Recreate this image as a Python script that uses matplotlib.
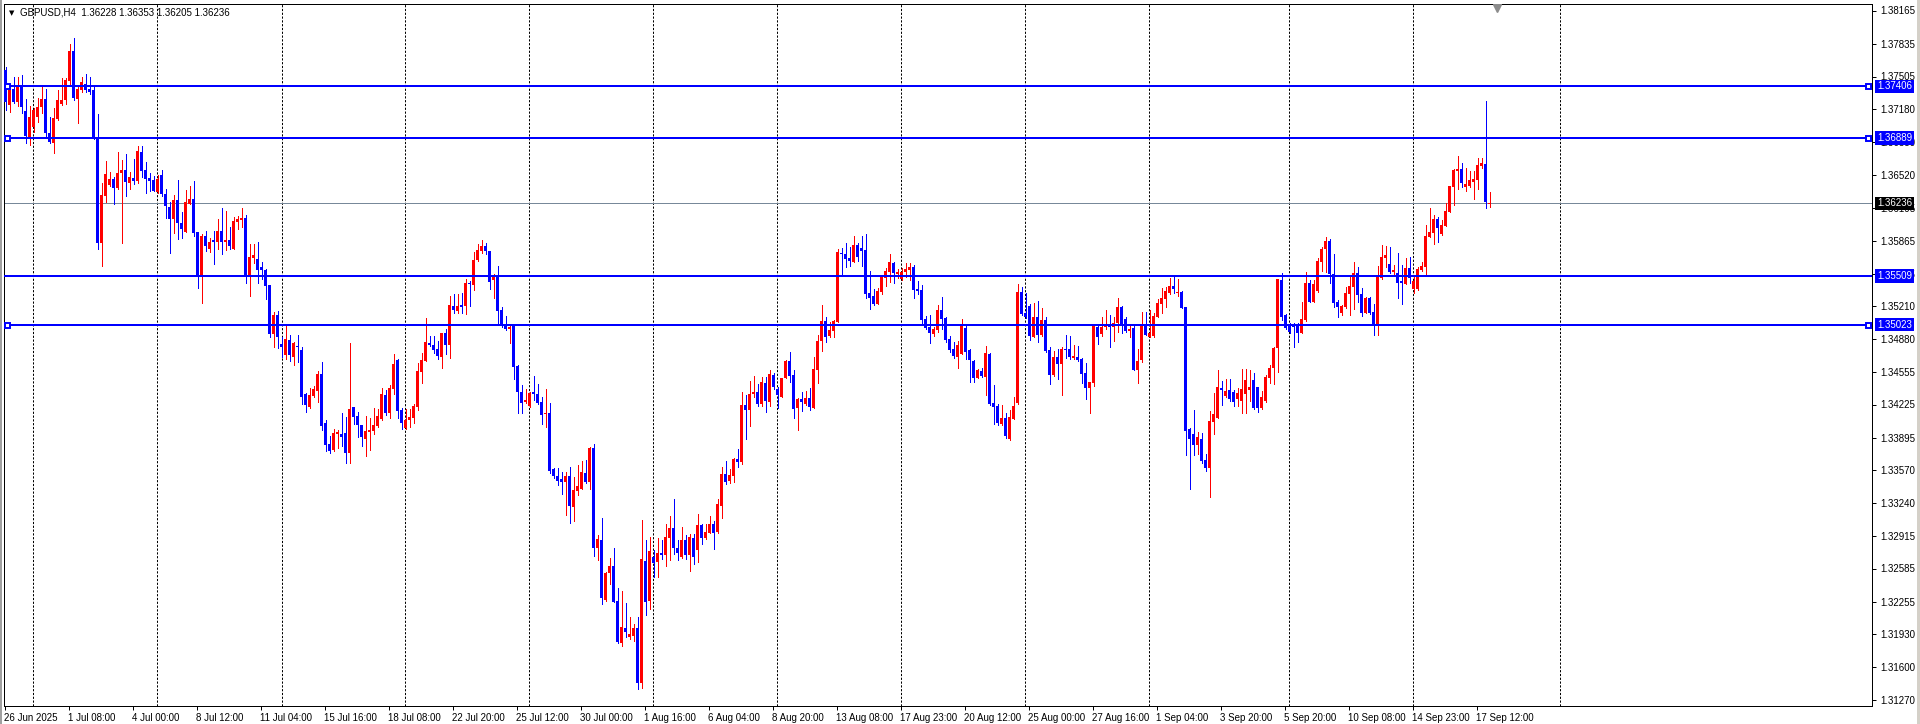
import numpy as np
import matplotlib.pyplot as plt
from matplotlib.patches import Rectangle

plt.rcParams['font.family'] = ['Liberation Sans', 'DejaVu Sans']

# GBPUSD H4 candles
opens = [
    1.3757, 1.3722, 1.3738, 1.3725, 1.3741, 1.3716, 1.3690, 1.3700, 1.3710, 1.3720,
    1.3728, 1.3694, 1.3684, 1.3708, 1.3723, 1.3727, 1.3746, 1.3776, 1.3728, 1.3737,
    1.3743, 1.3738, 1.3737, 1.3689, 1.3584, 1.3631, 1.3642, 1.3648, 1.3639, 1.3654,
    1.3657, 1.3644, 1.3649, 1.3646, 1.3675, 1.3657, 1.3649, 1.3647, 1.3635, 1.3652,
    1.3633, 1.3620, 1.3608, 1.3627, 1.3604, 1.3595, 1.3623, 1.3628, 1.3595, 1.3550,
    1.3591, 1.3578, 1.3587, 1.3585, 1.3596, 1.3585, 1.3587, 1.3578, 1.3605, 1.3607,
    1.3609, 1.3550, 1.3569, 1.3568, 1.3560, 1.3557, 1.3542, 1.3493, 1.3512, 1.3483,
    1.3472, 1.3487, 1.3470, 1.3481, 1.3477, 1.3433, 1.3420, 1.3431, 1.3436, 1.3453,
    1.3404, 1.3383, 1.3377, 1.3393, 1.3393, 1.3394, 1.3374, 1.3420, 1.3411, 1.3402,
    1.3388, 1.3395, 1.3396, 1.3401, 1.3408, 1.3432, 1.3414, 1.3438, 1.3467, 1.3417,
    1.3399, 1.3407, 1.3409, 1.3420, 1.3455, 1.3466, 1.3484, 1.3482, 1.3478, 1.3470,
    1.3494, 1.3482, 1.3521, 1.3516, 1.3522, 1.3521, 1.3544, 1.3542, 1.3567, 1.3576,
    1.3581, 1.3576, 1.3547, 1.3550, 1.3517, 1.3503, 1.3498, 1.3501, 1.3461, 1.3435,
    1.3425, 1.3421, 1.3435, 1.3433, 1.3425, 1.3413, 1.3414, 1.3358, 1.3351, 1.3348,
    1.3345, 1.3351, 1.3320, 1.3336, 1.3338, 1.3354, 1.3345, 1.3379, 1.3279, 1.3287,
    1.3227, 1.3254, 1.3261, 1.3226, 1.3184, 1.3199, 1.3190, 1.3191, 1.3199, 1.3144,
    1.3266, 1.3226, 1.3270, 1.3265, 1.3274, 1.3272, 1.3289, 1.3299, 1.3279, 1.3270,
    1.3287, 1.3272, 1.3289, 1.3277, 1.3302, 1.3289, 1.3294, 1.3303, 1.3295, 1.3321,
    1.3353, 1.3346, 1.3351, 1.3368, 1.3365, 1.3422, 1.3417, 1.3433, 1.3435, 1.3423,
    1.3444, 1.3425, 1.3452, 1.3438, 1.3430, 1.3449, 1.3466, 1.3452, 1.3419, 1.3428,
    1.3423, 1.3429, 1.3419, 1.3457, 1.3486, 1.3506, 1.3491, 1.3496, 1.3505, 1.3574,
    1.3573, 1.3569, 1.3565, 1.3582, 1.3579, 1.3577, 1.3534, 1.3531, 1.3523, 1.3535,
    1.3549, 1.3555, 1.3564, 1.3553, 1.3548, 1.3555, 1.3557, 1.3560, 1.3538, 1.3537,
    1.3508, 1.3500, 1.3493, 1.3497, 1.3517, 1.3509, 1.3488, 1.3478, 1.3470, 1.3473,
    1.3499, 1.3477, 1.3466, 1.3449, 1.3456, 1.3450, 1.3473, 1.3424, 1.3421, 1.3403,
    1.3409, 1.3388, 1.3408, 1.3424, 1.3535, 1.3514, 1.3521, 1.3490, 1.3510, 1.3492,
    1.3507, 1.3477, 1.3452, 1.3470, 1.3463, 1.3478, 1.3478, 1.3469, 1.3470, 1.3468,
    1.3454, 1.3439, 1.3444, 1.3500, 1.3493, 1.3500, 1.3502, 1.3500, 1.3504, 1.3520,
    1.3508, 1.3496, 1.3499, 1.3457, 1.3467, 1.3501, 1.3490, 1.3491, 1.3510, 1.3523,
    1.3528, 1.3534, 1.3541, 1.3534, 1.3535, 1.3520, 1.3398, 1.3393, 1.3382, 1.3388,
    1.3367, 1.3359, 1.3405, 1.3409, 1.3439, 1.3431, 1.3437, 1.3435, 1.3428, 1.3426,
    1.3433, 1.3437, 1.3447, 1.3440, 1.3419, 1.3426, 1.3449, 1.3459, 1.3479, 1.3547,
    1.3512, 1.3502, 1.3503, 1.3502, 1.3494, 1.3507, 1.3544, 1.3525, 1.3536, 1.3565,
    1.3578, 1.3586, 1.3553, 1.3525, 1.3514, 1.3520, 1.3533, 1.3540, 1.3554, 1.3533,
    1.3514, 1.3529, 1.3515, 1.3501, 1.3549, 1.3569, 1.3563, 1.3555, 1.3554, 1.3546,
    1.3543, 1.3559, 1.3538, 1.3538, 1.3557, 1.3560, 1.3590, 1.3594, 1.3608, 1.3593,
    1.3601, 1.3615, 1.3640, 1.3656, 1.3658, 1.3640, 1.3641, 1.3645, 1.3647, 1.3661,
    1.3663, 1.36228,
]
highs = [
    1.3760, 1.3740, 1.3750, 1.3750, 1.3752, 1.3728, 1.3721, 1.3719, 1.3729, 1.3740,
    1.3738, 1.3710, 1.3719, 1.3737, 1.3749, 1.3749, 1.3783, 1.3789, 1.3740, 1.3750,
    1.3753, 1.3750, 1.3740, 1.3713, 1.3644, 1.3666, 1.3655, 1.3650, 1.3675, 1.3667,
    1.3673, 1.3655, 1.3668, 1.3681, 1.3681, 1.3665, 1.3654, 1.3651, 1.3652, 1.3657,
    1.3638, 1.3625, 1.3632, 1.3647, 1.3615, 1.3637, 1.3641, 1.3646, 1.3595, 1.3593,
    1.3596, 1.3589, 1.3596, 1.3608, 1.3619, 1.3616, 1.3600, 1.3610, 1.3611, 1.3619,
    1.3612, 1.3583, 1.3583, 1.3585, 1.3565, 1.3558, 1.3542, 1.3515, 1.3516, 1.3490,
    1.3503, 1.3492, 1.3485, 1.3492, 1.3480, 1.3434, 1.3439, 1.3441, 1.3456, 1.3465,
    1.3407, 1.3391, 1.3398, 1.3397, 1.3414, 1.3410, 1.3484, 1.3420, 1.3415, 1.3402,
    1.3411, 1.3409, 1.3419, 1.3418, 1.3439, 1.3437, 1.3442, 1.3473, 1.3468, 1.3419,
    1.3418, 1.3418, 1.3423, 1.3464, 1.3474, 1.3509, 1.3491, 1.3491, 1.3486, 1.3494,
    1.3498, 1.3531, 1.3533, 1.3533, 1.3534, 1.3548, 1.3546, 1.3575, 1.3583, 1.3587,
    1.3584, 1.3576, 1.3553, 1.3561, 1.3520, 1.3511, 1.3503, 1.3501, 1.3462, 1.3442,
    1.3438, 1.3435, 1.3451, 1.3443, 1.3430, 1.3438, 1.3424, 1.3359, 1.3359, 1.3355,
    1.3355, 1.3360, 1.3350, 1.3362, 1.3366, 1.3367, 1.3380, 1.3383, 1.3292, 1.3309,
    1.3255, 1.3269, 1.3279, 1.3239, 1.3236, 1.3224, 1.3210, 1.3203, 1.3210, 1.3307,
    1.3287, 1.3290, 1.3277, 1.3289, 1.3287, 1.3303, 1.3311, 1.3328, 1.3287, 1.3300,
    1.3292, 1.3293, 1.3293, 1.3313, 1.3303, 1.3303, 1.3311, 1.3306, 1.3328, 1.3360,
    1.3366, 1.3358, 1.3369, 1.3378, 1.3435, 1.3432, 1.3446, 1.3451, 1.3443, 1.3450,
    1.3450, 1.3457, 1.3454, 1.3440, 1.3449, 1.3467, 1.3475, 1.3457, 1.3429, 1.3435,
    1.3436, 1.3439, 1.3470, 1.3492, 1.3522, 1.3510, 1.3505, 1.3507, 1.3578, 1.3579,
    1.3584, 1.3580, 1.3591, 1.3584, 1.3591, 1.3593, 1.3556, 1.3538, 1.3539, 1.3550,
    1.3559, 1.3573, 1.3565, 1.3558, 1.3559, 1.3564, 1.3564, 1.3562, 1.3546, 1.3542,
    1.3511, 1.3512, 1.3500, 1.3522, 1.3530, 1.3510, 1.3491, 1.3485, 1.3486, 1.3508,
    1.3503, 1.3478, 1.3467, 1.3458, 1.3459, 1.3481, 1.3474, 1.3442, 1.3423, 1.3422,
    1.3414, 1.3417, 1.3430, 1.3543, 1.3540, 1.3534, 1.3523, 1.3524, 1.3526, 1.3519,
    1.3510, 1.3480, 1.3476, 1.3478, 1.3480, 1.3492, 1.3491, 1.3482, 1.3481, 1.3469,
    1.3464, 1.3445, 1.3502, 1.3502, 1.3510, 1.3517, 1.3512, 1.3510, 1.3529, 1.3521,
    1.3510, 1.3502, 1.3501, 1.3478, 1.3515, 1.3515, 1.3517, 1.3514, 1.3528, 1.3539,
    1.3540, 1.3549, 1.3550, 1.3548, 1.3536, 1.3520, 1.3399, 1.3417, 1.3395, 1.3394,
    1.3373, 1.3416, 1.3434, 1.3457, 1.3446, 1.3448, 1.3448, 1.3437, 1.3439, 1.3458,
    1.3458, 1.3457, 1.3454, 1.3440, 1.3436, 1.3452, 1.3462, 1.3480, 1.3548, 1.3554,
    1.3513, 1.3504, 1.3504, 1.3504, 1.3525, 1.3555, 1.3547, 1.3547, 1.3569, 1.3580,
    1.3590, 1.3588, 1.3573, 1.3527, 1.3522, 1.3540, 1.3552, 1.3565, 1.3560, 1.3539,
    1.3530, 1.3530, 1.3523, 1.3561, 1.3582, 1.3581, 1.3580, 1.3562, 1.3574, 1.3562,
    1.3569, 1.3570, 1.3550, 1.3560, 1.3565, 1.3602, 1.3619, 1.3612, 1.3610, 1.3607,
    1.3624, 1.3641, 1.3658, 1.3671, 1.3664, 1.3659, 1.3656, 1.3656, 1.3669, 1.3669,
    1.3726, 1.36353,
]
lows = [
    1.3717, 1.3715, 1.3724, 1.3721, 1.3714, 1.3684, 1.3682, 1.3695, 1.3705, 1.3714,
    1.3690, 1.3684, 1.3674, 1.3707, 1.3722, 1.3723, 1.3741, 1.3727, 1.3704, 1.3735,
    1.3735, 1.3733, 1.3688, 1.3578, 1.3561, 1.3625, 1.3641, 1.3623, 1.3638, 1.3584,
    1.3631, 1.3638, 1.3643, 1.3644, 1.3650, 1.3634, 1.3636, 1.3636, 1.3634, 1.3631,
    1.3609, 1.3574, 1.3594, 1.3588, 1.3589, 1.3595, 1.3623, 1.3591, 1.3539, 1.3524,
    1.3576, 1.3575, 1.3563, 1.3578, 1.3573, 1.3577, 1.3578, 1.3578, 1.3598, 1.3600,
    1.3544, 1.3531, 1.3564, 1.3544, 1.3548, 1.3528, 1.3490, 1.3480, 1.3479, 1.3470,
    1.3468, 1.3466, 1.3462, 1.3465, 1.3423, 1.3415, 1.3419, 1.3430, 1.3425, 1.3397,
    1.3376, 1.3374, 1.3376, 1.3379, 1.3381, 1.3364, 1.3364, 1.3403, 1.3390, 1.3381,
    1.3371, 1.3377, 1.3393, 1.3400, 1.3407, 1.3412, 1.3409, 1.3433, 1.3409, 1.3398,
    1.3398, 1.3400, 1.3404, 1.3417, 1.3444, 1.3466, 1.3481, 1.3474, 1.3468, 1.3459,
    1.3473, 1.3469, 1.3514, 1.3514, 1.3514, 1.3513, 1.3521, 1.3537, 1.3566, 1.3574,
    1.3573, 1.3538, 1.3529, 1.3502, 1.3500, 1.3497, 1.3484, 1.3448, 1.3414, 1.3414,
    1.3424, 1.3420, 1.3427, 1.3423, 1.3403, 1.3400, 1.3354, 1.3349, 1.3342, 1.3333,
    1.3312, 1.3304, 1.3306, 1.3332, 1.3338, 1.3344, 1.3338, 1.3271, 1.3267, 1.3223,
    1.3226, 1.3243, 1.3225, 1.3184, 1.3181, 1.3190, 1.3188, 1.3186, 1.3138, 1.3139,
    1.3212, 1.3218, 1.3250, 1.3250, 1.3268, 1.3261, 1.3267, 1.3273, 1.3267, 1.3269,
    1.3268, 1.3256, 1.3263, 1.3265, 1.3283, 1.3288, 1.3294, 1.3278, 1.3294, 1.3309,
    1.3343, 1.3344, 1.3345, 1.3360, 1.3363, 1.3388, 1.3401, 1.3430, 1.3421, 1.3421,
    1.3415, 1.3421, 1.3438, 1.3419, 1.3430, 1.3449, 1.3445, 1.3409, 1.3397, 1.3416,
    1.3422, 1.3417, 1.3419, 1.3444, 1.3476, 1.3485, 1.3490, 1.3490, 1.3505, 1.3552,
    1.3560, 1.3561, 1.3565, 1.3566, 1.3561, 1.3529, 1.3518, 1.3522, 1.3523, 1.3533,
    1.3541, 1.3545, 1.3544, 1.3549, 1.3547, 1.3550, 1.3547, 1.3529, 1.3533, 1.3504,
    1.3498, 1.3484, 1.3491, 1.3495, 1.3498, 1.3485, 1.3475, 1.3469, 1.3459, 1.3473,
    1.3468, 1.3445, 1.3445, 1.3449, 1.3450, 1.3432, 1.3422, 1.3403, 1.3402, 1.3402,
    1.3389, 1.3387, 1.3408, 1.3423, 1.3512, 1.3509, 1.3487, 1.3490, 1.3485, 1.3491,
    1.3475, 1.3443, 1.3451, 1.3448, 1.3432, 1.3469, 1.3468, 1.3468, 1.3466, 1.3444,
    1.3428, 1.3414, 1.3441, 1.3483, 1.3491, 1.3498, 1.3480, 1.3486, 1.3495, 1.3494,
    1.3495, 1.3490, 1.3457, 1.3444, 1.3465, 1.3492, 1.3490, 1.3490, 1.3510, 1.3514,
    1.3520, 1.3533, 1.3534, 1.3531, 1.3519, 1.3372, 1.3338, 1.3372, 1.3373, 1.3364,
    1.3356, 1.3330, 1.3393, 1.3409, 1.3422, 1.3430, 1.3426, 1.3421, 1.3421, 1.3414,
    1.3414, 1.3426, 1.3418, 1.3415, 1.3418, 1.3425, 1.3444, 1.3443, 1.3455, 1.3507,
    1.3498, 1.3494, 1.3480, 1.3485, 1.3494, 1.3506, 1.3525, 1.3525, 1.3535, 1.3556,
    1.3555, 1.3544, 1.3520, 1.3510, 1.3512, 1.3519, 1.3512, 1.3518, 1.3525, 1.3511,
    1.3514, 1.3513, 1.3492, 1.3492, 1.3548, 1.3560, 1.3554, 1.3551, 1.3529, 1.3523,
    1.3543, 1.3544, 1.3534, 1.3537, 1.3556, 1.3551, 1.3590, 1.3583, 1.3585, 1.3592,
    1.3601, 1.3615, 1.3622, 1.3638, 1.3640, 1.3636, 1.3640, 1.3628, 1.3638, 1.3659,
    1.3619, 1.36205,
]
closes = [
    1.3725, 1.3737, 1.3725, 1.3740, 1.3720, 1.3691, 1.3710, 1.3717, 1.3720, 1.3728,
    1.3694, 1.3685, 1.3709, 1.3727, 1.3727, 1.3747, 1.3776, 1.3729, 1.3738, 1.3745,
    1.3737, 1.3735, 1.3689, 1.3584, 1.3632, 1.3653, 1.3648, 1.3639, 1.3654, 1.3657,
    1.3645, 1.3650, 1.3646, 1.3676, 1.3656, 1.3648, 1.3646, 1.3636, 1.3648, 1.3633,
    1.3621, 1.3608, 1.3627, 1.3604, 1.3598, 1.3625, 1.3628, 1.3594, 1.3550, 1.3591,
    1.3581, 1.3585, 1.3585, 1.3596, 1.3585, 1.3587, 1.3581, 1.3606, 1.3608, 1.3609,
    1.3550, 1.3570, 1.3572, 1.3557, 1.3557, 1.3541, 1.3493, 1.3512, 1.3490, 1.3480,
    1.3488, 1.3472, 1.3484, 1.3480, 1.3430, 1.3422, 1.3432, 1.3438, 1.3453, 1.3401,
    1.3382, 1.3376, 1.3394, 1.3395, 1.3390, 1.3374, 1.3418, 1.3410, 1.3402, 1.3390,
    1.3396, 1.3397, 1.3402, 1.3411, 1.3433, 1.3414, 1.3439, 1.3463, 1.3416, 1.3404,
    1.3407, 1.3410, 1.3421, 1.3456, 1.3467, 1.3485, 1.3482, 1.3477, 1.3471, 1.3494,
    1.3482, 1.3522, 1.3517, 1.3521, 1.3520, 1.3544, 1.3543, 1.3567, 1.3577, 1.3581,
    1.3576, 1.3545, 1.3552, 1.3516, 1.3501, 1.3498, 1.3500, 1.3460, 1.3435, 1.3424,
    1.3427, 1.3434, 1.3433, 1.3424, 1.3412, 1.3414, 1.3356, 1.3351, 1.3346, 1.3345,
    1.3351, 1.3321, 1.3337, 1.3341, 1.3355, 1.3345, 1.3379, 1.3279, 1.3288, 1.3229,
    1.3254, 1.3261, 1.3225, 1.3185, 1.3200, 1.3195, 1.3193, 1.3199, 1.3144, 1.3268,
    1.3225, 1.3276, 1.3264, 1.3274, 1.3272, 1.3290, 1.3299, 1.3279, 1.3274, 1.3287,
    1.3272, 1.3290, 1.3270, 1.3302, 1.3289, 1.3295, 1.3303, 1.3294, 1.3323, 1.3353,
    1.3345, 1.3352, 1.3368, 1.3365, 1.3422, 1.3417, 1.3433, 1.3435, 1.3423, 1.3445,
    1.3426, 1.3453, 1.3440, 1.3432, 1.3449, 1.3466, 1.3451, 1.3418, 1.3428, 1.3425,
    1.3429, 1.3420, 1.3458, 1.3486, 1.3506, 1.3490, 1.3497, 1.3506, 1.3575, 1.3573,
    1.3568, 1.3566, 1.3582, 1.3570, 1.3576, 1.3533, 1.3529, 1.3523, 1.3536, 1.3550,
    1.3556, 1.3565, 1.3554, 1.3555, 1.3555, 1.3558, 1.3560, 1.3537, 1.3536, 1.3507,
    1.3499, 1.3494, 1.3498, 1.3517, 1.3508, 1.3487, 1.3477, 1.3471, 1.3482, 1.3501,
    1.3475, 1.3467, 1.3449, 1.3457, 1.3451, 1.3474, 1.3423, 1.3420, 1.3404, 1.3409,
    1.3391, 1.3410, 1.3421, 1.3535, 1.3513, 1.3510, 1.3491, 1.3510, 1.3492, 1.3507,
    1.3476, 1.3452, 1.3470, 1.3463, 1.3478, 1.3477, 1.3470, 1.3471, 1.3467, 1.3453,
    1.3439, 1.3445, 1.3501, 1.3490, 1.3500, 1.3503, 1.3500, 1.3504, 1.3520, 1.3501,
    1.3496, 1.3498, 1.3457, 1.3466, 1.3501, 1.3492, 1.3494, 1.3511, 1.3524, 1.3529,
    1.3536, 1.3541, 1.3538, 1.3535, 1.3519, 1.3396, 1.3388, 1.3382, 1.3390, 1.3366,
    1.3359, 1.3406, 1.3413, 1.3440, 1.3437, 1.3436, 1.3428, 1.3425, 1.3434, 1.3438,
    1.3447, 1.3440, 1.3419, 1.3419, 1.3430, 1.3450, 1.3459, 1.3479, 1.3548, 1.3510,
    1.3499, 1.3495, 1.3500, 1.3494, 1.3508, 1.3544, 1.3525, 1.3543, 1.3566, 1.3578,
    1.3586, 1.3553, 1.3524, 1.3520, 1.3521, 1.3534, 1.3541, 1.3554, 1.3532, 1.3514,
    1.3529, 1.3514, 1.3501, 1.3552, 1.3570, 1.3572, 1.3555, 1.3557, 1.3544, 1.3544,
    1.3559, 1.3549, 1.3546, 1.3558, 1.3561, 1.3591, 1.3595, 1.3608, 1.3599, 1.3602,
    1.3616, 1.3641, 1.3657, 1.3658, 1.3644, 1.3643, 1.3647, 1.3648, 1.3662, 1.3664,
    1.3625, 1.36236,
]

date_labels = [
    "26 Jun 2025", "1 Jul 08:00", "4 Jul 00:00", "8 Jul 12:00", "11 Jul 04:00",
    "15 Jul 16:00", "18 Jul 08:00", "22 Jul 20:00", "25 Jul 12:00", "30 Jul 00:00",
    "1 Aug 16:00", "6 Aug 04:00", "8 Aug 20:00", "13 Aug 08:00", "17 Aug 23:00",
    "20 Aug 12:00", "25 Aug 00:00", "27 Aug 16:00", "1 Sep 04:00", "3 Sep 20:00",
    "5 Sep 20:00", "10 Sep 08:00", "14 Sep 23:00", "17 Sep 12:00",
]
price_ticks = [
    1.38165, 1.37835, 1.37505, 1.37180, 1.36850, 1.36520, 1.36195, 1.35865,
    1.35535, 1.35210, 1.34880, 1.34555, 1.34225, 1.33895, 1.33570, 1.33240,
    1.32915, 1.32585, 1.32255, 1.31930, 1.31600, 1.31270,
]
levels = [1.37406, 1.36889, 1.35509, 1.35023]
level_anchors = [True, True, False, True]
last_price = 1.36236
header = "GBPUSD,H4  1.36228 1.36353 1.36205 1.36236"

# vertical grid positions, in bars
grid_bars = [6.9, 37.9, 69.0, 99.9, 130.9, 161.9, 192.9, 223.9, 254.9, 285.9,
             320.9, 351.9, 388.6]

W, H = 1920, 724
PX = 0.72  # one pixel in points at dpi 100
BULL, BEAR = '#FF0000', '#0000FF'
Y_LO, Y_HI = 1.3121, 1.3823

fig = plt.figure(figsize=(W / 100, H / 100), dpi=100)
fig.patch.set_facecolor('white')
ax = fig.add_axes([4 / W, 18 / H, 1868 / W, 702 / H])

o = np.array(opens)
h = np.array(highs)
l = np.array(lows)
c = np.array(closes)
x = np.arange(len(o))
cols = np.where(c > o, BULL, BEAR)

ax.vlines(x, l, h, colors=cols, linewidth=PX, antialiased=False, zorder=3)
body_h = np.maximum(np.abs(c - o), 0.00008)
ax.bar(x, body_h, bottom=np.minimum(o, c), width=0.75, color=cols,
       linewidth=0, antialiased=False, zorder=4)

for g in grid_bars:
    ax.axvline(g, color='black', lw=PX, ls=(0, (2.2, 1.6)), zorder=1)

ax.axhline(last_price, color='#778899', lw=PX, zorder=2)
for lv, anchor in zip(levels, level_anchors):
    ax.axhline(lv, color=BEAR, lw=2 * PX, zorder=5)
    if anchor:
        ax.plot([0.25, 465.65], [lv, lv], ls='none', marker='s', ms=3.6,
                mfc='white', mec=BEAR, mew=1.4, zorder=6, clip_on=False)

x0 = -0.425
ax.set_xlim(x0, x0 + 467)
ax.set_ylim(Y_LO, Y_HI)

for sp in ax.spines.values():
    sp.set_color('black')
    sp.set_linewidth(PX)

ax.yaxis.tick_right()
ax.set_yticks(price_ticks)
ax.set_yticklabels([f"{v:.5f}" for v in price_ticks])
ax.tick_params(axis='y', direction='out', length=3, width=PX, pad=3,
               labelsize=7, colors='black')
ax.set_xticks(16 * np.arange(len(date_labels)) - 0.3)
ax.set_xticklabels(date_labels)
ax.tick_params(axis='x', direction='out', length=3, width=PX, pad=2,
               labelsize=7, colors='black')
for t in ax.get_xticklabels():
    t.set_ha('left')

# boxed price labels on the right scale
for lv in levels:
    ax.annotate(f"{lv:.5f}", xy=(1877, lv), xycoords=('figure pixels', 'data'),
                ha='left', va='center', color='white', fontsize=7, zorder=10,
                annotation_clip=False,
                bbox=dict(boxstyle='square,pad=0.18', fc=BEAR, ec='none'))
ax.annotate(f"{last_price:.5f}", xy=(1877, last_price),
            xycoords=('figure pixels', 'data'), ha='left', va='center',
            color='white', fontsize=7, zorder=10, annotation_clip=False,
            bbox=dict(boxstyle='square,pad=0.18', fc='black', ec='none'))

# chart shift marker just under the top edge
ax.plot([372.8], [Y_HI - 0.00035], marker='v', ms=6, color='#8C8C8C',
        mec='#8C8C8C', zorder=7)

fig.text(12 / W, 1 - 12.7 / H, '\u25BC', fontsize=5, family='DejaVu Sans',
         ha='center', va='center')
fig.text(20 / W, 1 - 12.7 / H, header, fontsize=7, va='center')

# window frame bits
fig.add_artist(Rectangle((0, 0), 2 / W, 1, transform=fig.transFigure,
                         fc='#A0A0A0', ec='none'))
fig.add_artist(Rectangle((1 - 3 / W, 0), 3 / W, 1, transform=fig.transFigure,
                         fc='#D4D0C8', ec='none'))

fig.savefig('out.png', dpi=100, facecolor='white')
